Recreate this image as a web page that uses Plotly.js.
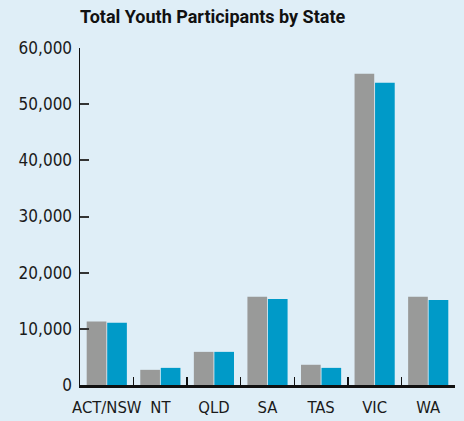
<!DOCTYPE html>
<html>
<head>
<meta charset="utf-8">
<script src="https://cdn.plot.ly/plotly-3.0.1.min.js"></script>
<style>
  html, body { margin: 0; padding: 0; background: #dfeef7; }
  #chart { width: 464px; height: 421px; }
</style>
</head>
<body>
<div id="chart"></div>
<script>
const states = ["ACT/NSW", "NT", "QLD", "SA", "TAS", "VIC", "WA"];
const seriesA = [11300, 2700, 5900, 15700, 3600, 55400, 15700];
const seriesB = [11100, 3050, 5900, 15300, 3050, 53800, 15150];
const yTickVals = [0, 10000, 20000, 30000, 40000, 50000, 60000];
const yTickText = ["0", "10,000", "20,000", "30,000", "40,000", "50,000", "60,000"];

const traces = [
  { type: "bar", x: states, y: seriesA, marker: { color: "#999a99" }, hoverinfo: "x+y" },
  { type: "bar", x: states, y: seriesB, marker: { color: "#009ac8" }, hoverinfo: "x+y" }
];

const tickFamily = "'DejaVu Sans Condensed', 'DejaVu Sans', sans-serif";

const layout = {
  width: 464, height: 421,
  paper_bgcolor: "#dfeef7", plot_bgcolor: "#dfeef7",
  margin: { l: 80, r: 9, t: 48, b: 36 },
  showlegend: false,
  barmode: "group",
  bargap: 0.235,
  bargroupgap: 0.04,
  font: { family: tickFamily, size: 17, color: "#1a1a1a" },
  title: {
    text: "<b>Total Youth Participants by State</b>",
    font: { family: "Roboto, sans-serif", size: 18, color: "#111" },
    x: 0, xref: "paper", xanchor: "left", y: 0.96, yref: "container", yanchor: "middle"
  },
  xaxis: {
    type: "category",
    tickangle: 0,
    showline: true, linecolor: "#111", linewidth: 3,
    ticks: "inside", tickson: "boundaries", ticklen: 8, tickwidth: 1.5, tickcolor: "#111",
    ticklabelstandoff: 5,
    showgrid: false, zeroline: false,
    tickfont: { family: tickFamily, size: 16.5 }
  },
  yaxis: {
    range: [0, 60000],
    tickvals: yTickVals, ticktext: yTickText,
    showline: true, linecolor: "#111", linewidth: 1.5,
    ticks: "inside", ticklen: 9, tickwidth: 2, tickcolor: "#333",
    ticklabelstandoff: 3,
    showgrid: false, zeroline: false,
    tickfont: { family: tickFamily, size: 17 }
  }
};

Plotly.newPlot("chart", traces, layout, { displayModeBar: false, staticPlot: true });
</script>
</body>
</html>
